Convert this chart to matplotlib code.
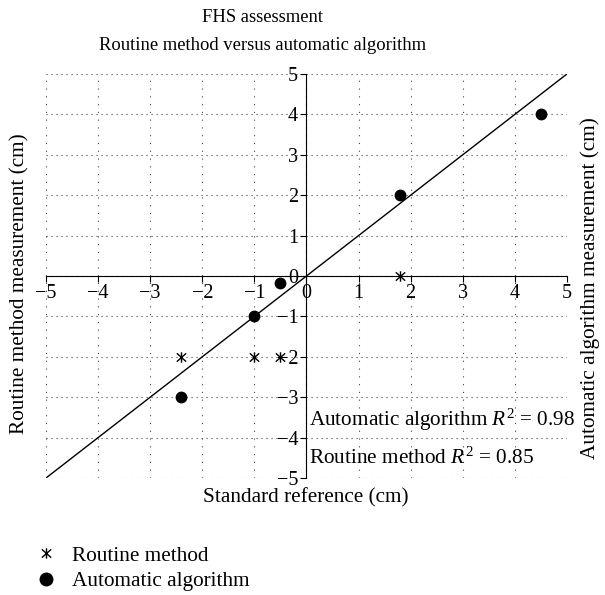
import matplotlib
matplotlib.use('Agg')
import matplotlib.pyplot as plt
from matplotlib.lines import Line2D
from matplotlib.path import Path

plt.rcParams['font.family'] = 'Liberation Serif'
plt.rcParams['mathtext.fontset'] = 'custom'
plt.rcParams['mathtext.rm'] = 'Liberation Serif'
plt.rcParams['mathtext.it'] = 'Liberation Serif:italic'

# data
routine_x = [-2.4, -1.0, -0.5, 1.8]
routine_y = [-2.0, -2.0, -2.0, 0.0]
auto_x = [-2.4, -1.0, -0.5, 1.8, 4.5]
auto_y = [-3.0, -1.0, -0.17, 2.0, 4.0]
r2_auto = 0.98
r2_routine = 0.85
ticks = [-5, -4, -3, -2, -1, 0, 1, 2, 3, 4, 5]

fs = 15.3
fs_title = 13.4

# asterisk: vertical bar plus an X
star = Path([(0, -1), (0, 1), (-0.9, -0.8), (0.9, 0.8), (-0.9, 0.8), (0.9, -0.8)],
            [Path.MOVETO, Path.LINETO] * 3)

fig = plt.figure(figsize=(6.05, 5.95), dpi=100)
ax = fig.add_axes([0.076, 0.1966, 0.861, 0.679])

ax.set_xlim(-5, 5)
ax.set_ylim(-5, 5)
ax.set_xticks(ticks)
ax.set_yticks(ticks)
ax.spines['left'].set_position(('data', 0))
ax.spines['bottom'].set_position(('data', 0))
ax.spines['top'].set_visible(False)
ax.spines['right'].set_visible(False)
ax.tick_params(labelsize=14.5, length=4, width=0.8, pad=2)

# dotted grid, horizontal lines denser than vertical
for v in ticks:
    ax.axvline(v, color='#444444', lw=0.8, ls=(0, (1, 6)), zorder=0)
    ax.axhline(v, color='#444444', lw=0.8, ls=(0, (1, 3.5)), zorder=0)

ax.plot([-5, 5], [-5, 5], color='k', lw=1.0, zorder=2)
ax.plot(routine_x, routine_y, ls='none', marker=star, ms=7.5, mew=1.0,
        color='k', zorder=3)
ax.plot(auto_x, auto_y, ls='none', marker='o', ms=7.5, color='k', zorder=4)

ax.text(0.05, -3.56, 'Automatic algorithm $R^2$ = %.2f' % r2_auto,
        fontsize=fs, va='center', ha='left')
ax.text(0.05, -4.52, 'Routine method $R^2$ = %.2f' % r2_routine,
        fontsize=fs, va='center', ha='left')

fig.text(263/605, 1-17/595, 'FHS assessment', fontsize=fs_title,
         ha='center', va='center')
fig.text(263/605, 1-45/595, 'Routine method versus automatic algorithm',
         fontsize=fs_title, ha='center', va='center')
fig.text(306/605, 1-498/595, 'Standard reference (cm)', fontsize=fs,
         ha='center', va='center')
fig.text(20/605, 1-284/595, 'Routine method measurement (cm)', fontsize=fs,
         rotation=90, ha='center', va='center')
fig.text(590/605, 1-288/595, 'Automatic algorithm measurement (cm)', fontsize=fs,
         rotation=90, ha='center', va='center')

handles = [Line2D([], [], ls='none', marker=star, ms=7.5, mew=1.0, color='k',
                  label='Routine method'),
           Line2D([], [], ls='none', marker='o', ms=9, color='k',
                  label='Automatic algorithm')]
fig.legend(handles=handles, loc='upper left', bbox_to_anchor=(0.061, 1-546/595),
           frameon=False, fontsize=fs, handlelength=0.9, handletextpad=0.75,
           labelspacing=0.25, borderaxespad=0, borderpad=0)

fig.savefig('out.png', dpi=100)
